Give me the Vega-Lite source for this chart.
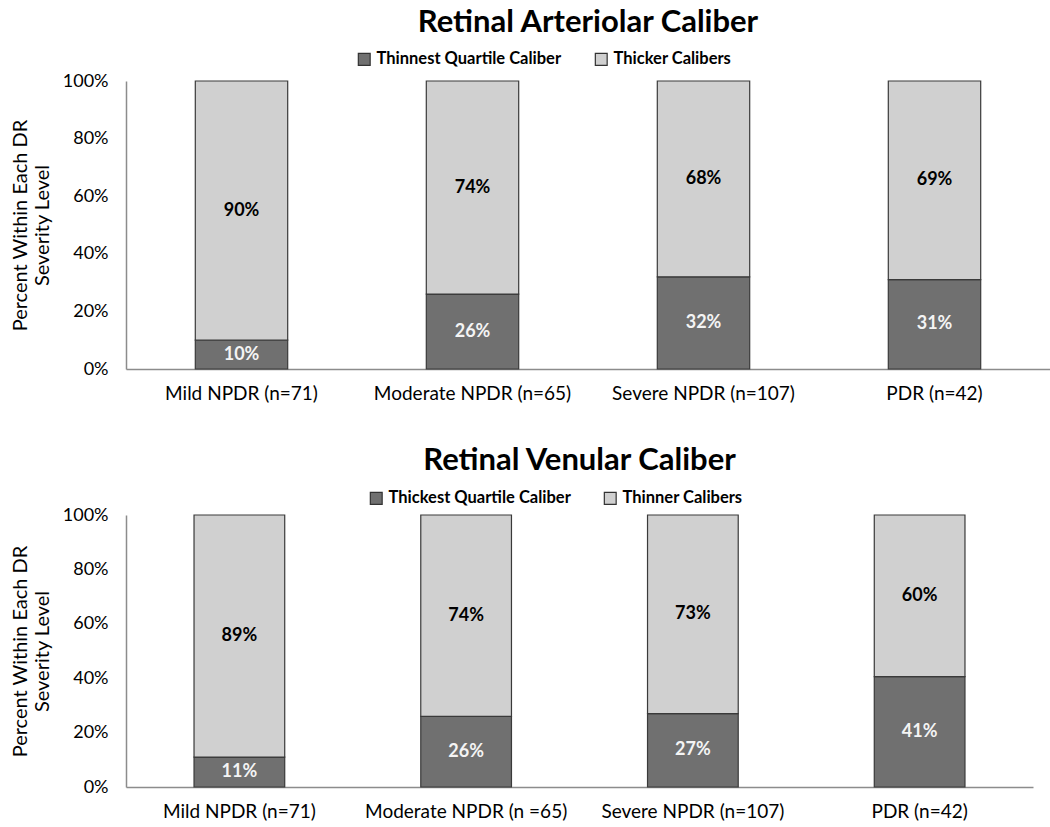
{
  "$schema": "https://vega.github.io/schema/vega-lite/v6.json",
  "background": "white",
  "padding": {"left": 10, "top": 7, "right": 0, "bottom": 0},
  "config": {
    "font": "Lato",
    "view": {"stroke": null},
    "concat": {"spacing": 42},
    "axisX": {"domainColor": "#8c8c8c", "domainWidth": 1.5, "ticks": false, "labelAngle": 0, "labelFontSize": 19, "labelColor": "#000", "labelPadding": 15, "labelLimit": 400, "title": null, "grid": false},
    "axisY": {"domainColor": "#8c8c8c", "domainWidth": 1.5, "ticks": false, "labelFontSize": 18, "labelColor": "#000", "labelPadding": 18, "grid": false, "titleFontSize": 20, "titleFontWeight": "normal", "titleColor": "#000", "titlePadding": 10},
    "legend": {"orient": "none", "direction": "horizontal", "symbolType": "square", "symbolSize": 140, "symbolStrokeColor": "#333", "symbolStrokeWidth": 1.2, "labelFontSize": 16.5, "labelFontWeight": "bold", "labelColor": "#000", "columnPadding": 30, "labelLimit": 300},
    "title": {"fontSize": 31, "fontWeight": "bold", "color": "#000", "anchor": "middle"}
  },
  "vconcat": [
    {
      "title": {"text": "Retinal Arteriolar Caliber", "offset": 12},
      "width": 924,
      "height": 288,
      "data": {"values": [
        {"category": "Mild NPDR (n=71)", "series": "Thinnest Quartile Caliber", "order": 1, "value": 10},
        {"category": "Mild NPDR (n=71)", "series": "Thicker Calibers", "order": 2, "value": 90},
        {"category": "Moderate NPDR (n=65)", "series": "Thinnest Quartile Caliber", "order": 1, "value": 26},
        {"category": "Moderate NPDR (n=65)", "series": "Thicker Calibers", "order": 2, "value": 74},
        {"category": "Severe NPDR (n=107)", "series": "Thinnest Quartile Caliber", "order": 1, "value": 32},
        {"category": "Severe NPDR (n=107)", "series": "Thicker Calibers", "order": 2, "value": 68},
        {"category": "PDR (n=42)", "series": "Thinnest Quartile Caliber", "order": 1, "value": 31},
        {"category": "PDR (n=42)", "series": "Thicker Calibers", "order": 2, "value": 69}
      ]},
      "transform": [
        {"stack": "value", "groupby": ["category"], "sort": [{"field": "order"}], "offset": "normalize", "as": ["y0", "y1"]},
        {"calculate": "(datum.y0 + datum.y1) / 2", "as": "ymid"},
        {"calculate": "datum.value + '%'", "as": "label"}
      ],
      "layer": [
        {
          "mark": {"type": "bar", "stroke": "#3a3a3a", "strokeWidth": 1.2},
          "encoding": {
            "x": {"field": "category", "type": "nominal", "sort": null, "scale": {"paddingInner": 0.6, "paddingOuter": 0.3}},
            "y": {"field": "y0", "type": "quantitative", "scale": {"domain": [0, 1]}, "axis": {"format": ".0%", "values": [0, 0.2, 0.4, 0.6, 0.8, 1], "title": ["Percent Within Each DR", "Severity Level"]}},
            "y2": {"field": "y1"},
            "fill": {"field": "series", "type": "nominal", "scale": {"domain": ["Thinnest Quartile Caliber", "Thicker Calibers"], "range": ["#707070", "#d0d0d0"]}, "legend": {"title": null, "legendX": 230, "legendY": -30}}
          }
        },
        {
          "mark": {"type": "text", "fontWeight": "bold", "fontSize": 18},
          "encoding": {
            "x": {"field": "category", "type": "nominal", "sort": null},
            "y": {"field": "ymid", "type": "quantitative"},
            "text": {"field": "label"},
            "color": {"condition": {"test": "datum.order == 1", "value": "#f4f4f4"}, "value": "#000"}
          }
        }
      ]
    },
    {
      "title": {"text": "Retinal Venular Caliber", "offset": 13},
      "width": 907,
      "height": 272,
      "data": {"values": [
        {"category": "Mild NPDR (n=71)", "series": "Thickest Quartile Caliber", "order": 1, "value": 11},
        {"category": "Mild NPDR (n=71)", "series": "Thinner Calibers", "order": 2, "value": 89},
        {"category": "Moderate NPDR (n =65)", "series": "Thickest Quartile Caliber", "order": 1, "value": 26},
        {"category": "Moderate NPDR (n =65)", "series": "Thinner Calibers", "order": 2, "value": 74},
        {"category": "Severe NPDR (n=107)", "series": "Thickest Quartile Caliber", "order": 1, "value": 27},
        {"category": "Severe NPDR (n=107)", "series": "Thinner Calibers", "order": 2, "value": 73},
        {"category": "PDR (n=42)", "series": "Thickest Quartile Caliber", "order": 1, "value": 41},
        {"category": "PDR (n=42)", "series": "Thinner Calibers", "order": 2, "value": 60}
      ]},
      "transform": [
        {"stack": "value", "groupby": ["category"], "sort": [{"field": "order"}], "offset": "normalize", "as": ["y0", "y1"]},
        {"calculate": "(datum.y0 + datum.y1) / 2", "as": "ymid"},
        {"calculate": "datum.value + '%'", "as": "label"}
      ],
      "layer": [
        {
          "mark": {"type": "bar", "stroke": "#3a3a3a", "strokeWidth": 1.2},
          "encoding": {
            "x": {"field": "category", "type": "nominal", "sort": null, "scale": {"paddingInner": 0.6, "paddingOuter": 0.3}},
            "y": {"field": "y0", "type": "quantitative", "scale": {"domain": [0, 1]}, "axis": {"format": ".0%", "values": [0, 0.2, 0.4, 0.6, 0.8, 1], "title": ["Percent Within Each DR", "Severity Level"]}},
            "y2": {"field": "y1"},
            "fill": {"field": "series", "type": "nominal", "scale": {"domain": ["Thickest Quartile Caliber", "Thinner Calibers"], "range": ["#707070", "#d0d0d0"]}, "legend": {"title": null, "legendX": 242, "legendY": -25}}
          }
        },
        {
          "mark": {"type": "text", "fontWeight": "bold", "fontSize": 18},
          "encoding": {
            "x": {"field": "category", "type": "nominal", "sort": null},
            "y": {"field": "ymid", "type": "quantitative"},
            "text": {"field": "label"},
            "color": {"condition": {"test": "datum.order == 1", "value": "#f4f4f4"}, "value": "#000"}
          }
        }
      ]
    }
  ],
  "resolve": {"scale": {"fill": "independent"}, "legend": {"fill": "independent"}}
}
